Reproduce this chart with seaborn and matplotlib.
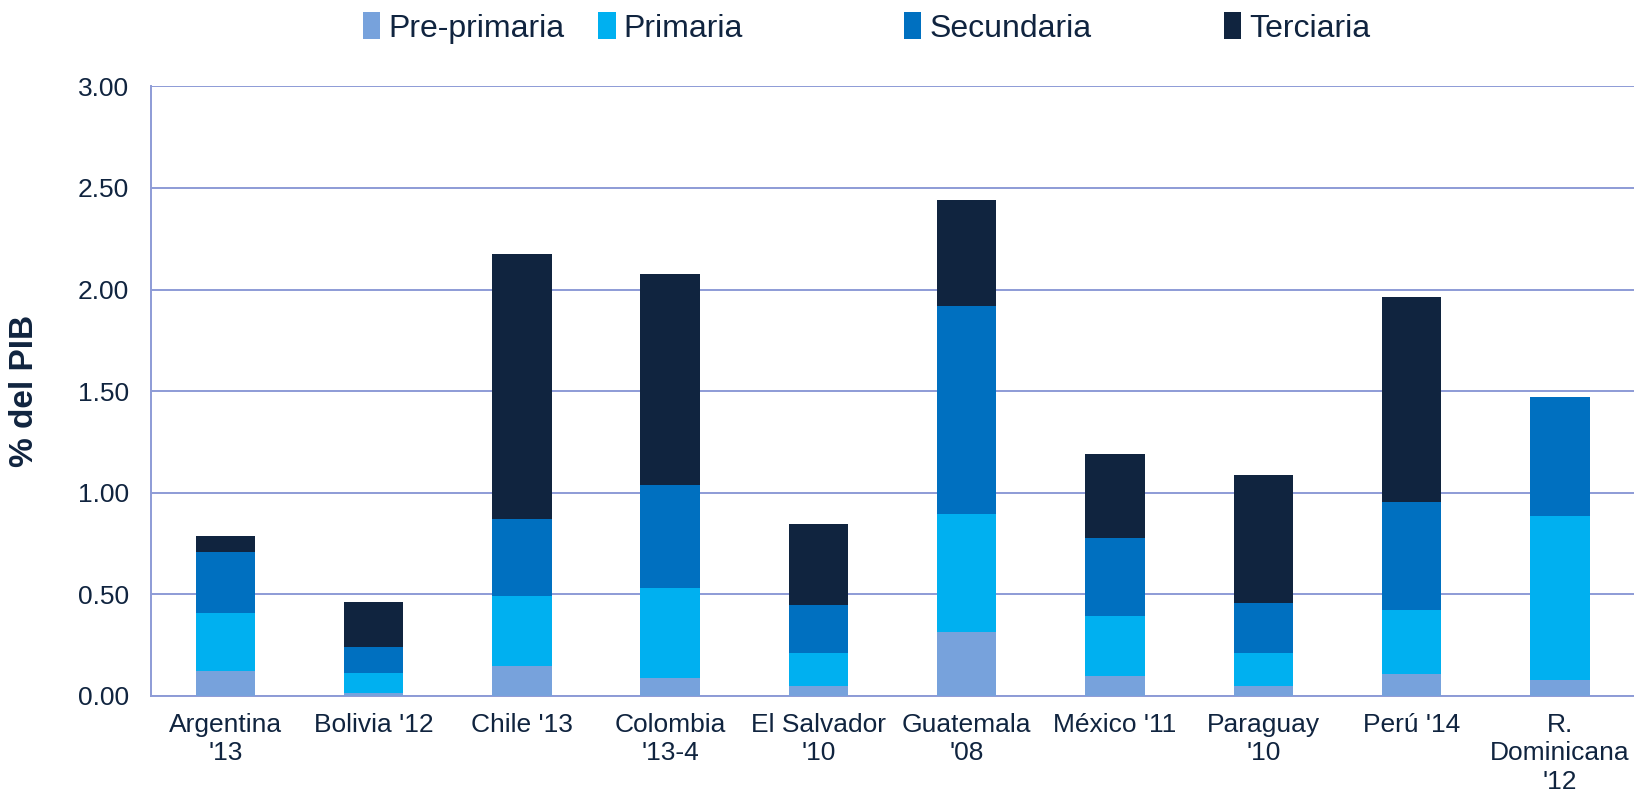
import numpy as np
import pandas as pd
import matplotlib
matplotlib.use("Agg")
import matplotlib.pyplot as plt
import seaborn as sns
from matplotlib.patches import Patch
from matplotlib.ticker import FormatStrFormatter, FixedLocator

# ── Data (% of GDP) ──────────────────────────────────────────────────────────
countries = ["Argentina\n'13", "Bolivia '12", "Chile '13", "Colombia\n'13-4",
             "El Salvador\n'10", "Guatemala\n'08", "México '11", "Paraguay\n'10",
             "Perú '14", "R.\nDominicana\n'12"]
levels = ["Pre-primaria", "Primaria", "Secundaria", "Terciaria"]

pre_primaria = [0.123, 0.013, 0.148, 0.090, 0.049, 0.317, 0.099, 0.049, 0.108, 0.079]
primaria     = [0.286, 0.100, 0.345, 0.442, 0.160, 0.576, 0.295, 0.163, 0.316, 0.808]
secundaria   = [0.300, 0.130, 0.379, 0.507, 0.238, 1.028, 0.384, 0.244, 0.532, 0.583]
terciaria    = [0.076, 0.218, 1.305, 1.038, 0.399, 0.519, 0.412, 0.633, 1.006, 0.000]

colors = ["#77A2DC", "#00B0F0", "#0070C0", "#10243F"]
TEXT = "#10243F"
GRID = "#8D9BD6"

df = pd.DataFrame({"pais": countries, "Pre-primaria": pre_primaria,
                   "Primaria": primaria, "Secundaria": secundaria,
                   "Terciaria": terciaria})
# cumulative tops, drawn from the highest layer down so lower layers overlay
cum = df[levels].cumsum(axis=1)

sns.set_style("white")
plt.rcParams["font.family"] = ["Liberation Sans", "DejaVu Sans"]

fig = plt.figure(figsize=(16.34, 7.99), dpi=100)
ax = fig.add_axes([0.0925, 0.129, 0.9075, 0.763])

for lvl, col in reversed(list(zip(levels, colors))):
    sns.barplot(x=df["pais"], y=cum[lvl], color=col, width=0.4,
                saturation=1, edgecolor="none", linewidth=0, ax=ax, zorder=3)

ax.set_ylim(0, 3.0)
ax.set_xlim(-0.5, len(countries) - 0.5)
ax.yaxis.set_major_locator(FixedLocator(np.arange(0, 3.01, 0.5)))
ax.yaxis.set_major_formatter(FormatStrFormatter("%.2f"))
ax.grid(axis="y", color=GRID, lw=1.4, zorder=0)
ax.set_axisbelow(True)

for s in ["top", "right"]:
    ax.spines[s].set_visible(False)
for s in ["left", "bottom"]:
    ax.spines[s].set_color(GRID)
    ax.spines[s].set_linewidth(1.4)

ax.set_xticks(range(len(countries)))
ax.set_xticklabels(countries, fontsize=19, color=TEXT, linespacing=1.25)
ax.set_xticks(np.arange(-0.5, len(countries), 1.0), minor=True)
ax.tick_params(axis="x", which="major", length=0, pad=12)
ax.tick_params(axis="x", which="minor", length=8, width=1.4, color=GRID)
ax.tick_params(axis="y", length=7, width=1.4, color=GRID, labelsize=19,
               labelcolor=TEXT, pad=9)

ax.set_xlabel("")
ax.set_ylabel("% del PIB", fontsize=24, fontweight="bold", color=TEXT)
ax.yaxis.set_label_coords(-0.075, 0.5)

# legend entries sit at uneven spacing in the original, so place each one
legend_x = [0.222, 0.366, 0.553, 0.749]
for lvl, col, lx in zip(levels, colors, legend_x):
    fig.legend([Patch(facecolor=col, edgecolor="none")], [lvl], loc="center left",
               bbox_to_anchor=(lx, 0.965), frameon=False, fontsize=23,
               handlelength=0.55, handleheight=0.9, handletextpad=0.25,
               borderpad=0, borderaxespad=0, labelcolor=TEXT)

fig.savefig("out.png", dpi=100)
